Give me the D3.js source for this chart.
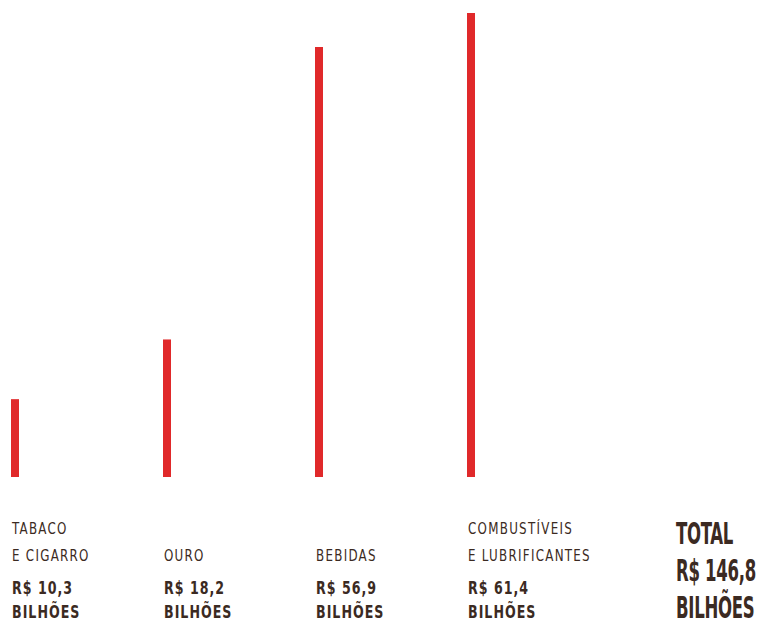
<!DOCTYPE html>
<html>
<head>
<meta charset="utf-8">
<script src="https://cdn.jsdelivr.net/npm/d3@7"></script>
<style>
  body { margin: 0; background: #fff; }
  svg text { font-family: "Liberation Sans Narrow", "DejaVu Sans Condensed", "Roboto", sans-serif; font-stretch: condensed; fill: #3b2a22; }
</style>
</head>
<body>
<div id="chart"></div>
<script>
// data
const categories = ["TABACO\nE CIGARRO", "OURO", "BEBIDAS", "COMBUSTÍVEIS\nE LUBRIFICANTES"];
const values = [10.3, 18.2, 56.9, 61.4];
const valueLabels = ["R$ 10,3", "R$ 18,2", "R$ 56,9", "R$ 61,4"];
const unitLabel = "BILHÕES";
const totalLines = ["TOTAL", "R$ 146,8", "BILHÕES"];

const width = 761, height = 623;

const svg = d3.select("#chart")
    .append("svg")
    .attr("width", width)
    .attr("height", height);

// x positions of the columns
const x = d3.scaleBand()
    .domain(categories)
    .range([11, 619])
    .paddingInner(0)
    .align(0);

const y = d3.scaleLinear()
    .domain([0, d3.max(values)])
    .range([477, 13]);

const barW = 8;

// bars
svg.selectAll("rect.bar")
    .data(values)
    .enter().append("rect")
    .attr("class", "bar")
    .attr("x", (d, i) => x(categories[i]))
    .attr("y", d => y(d))
    .attr("width", barW)
    .attr("height", d => y(0) - y(d))
    .attr("fill", "#e0292a");

// category labels, bottom aligned (squeezed to look like a condensed face)
const labels = svg.selectAll("g.label")
    .data(categories)
    .enter().append("g")
    .attr("class", "label")
    .attr("transform", d => `translate(${x(d) + 1},0)`);

labels.each(function(d) {
    const lines = d.split("\n");
    const g = d3.select(this).append("g").attr("transform", "scale(0.8,1)");
    lines.forEach((line, j) => {
        g.append("text")
            .attr("y", 561 - (lines.length - 1 - j) * 27)
            .attr("font-size", 16.5)
            .attr("letter-spacing", 1.6)
            .text(line);
    });
});

const valG = labels.append("g").attr("transform", "scale(0.78,1)");

valG.append("text")
    .attr("y", 594)
    .attr("font-size", 18)
    .attr("font-weight", "bold")
    .attr("letter-spacing", 1.3)
    .text((d, i) => valueLabels[i]);

valG.append("text")
    .attr("y", 618)
    .attr("font-size", 18)
    .attr("font-weight", "bold")
    .attr("letter-spacing", 1.3)
    .text(unitLabel);

// total block
const total = svg.append("g").attr("transform", "translate(676,0)");
const totalInner = total.append("g");
const totalY = [544, 581, 618];
totalInner.selectAll("text")
    .data(totalLines)
    .enter().append("text")
    .attr("y", (d, i) => totalY[i])
    .attr("font-size", 31)
    .attr("font-weight", "bold")
    .attr("letter-spacing", -0.5)
    .text(d => d);

// squeeze the total so its widest line is 80px wide
let maxW = 0;
totalInner.selectAll("text").each(function() {
    maxW = Math.max(maxW, this.getComputedTextLength());
});
totalInner.attr("transform", `scale(${80 / maxW},1)`);
</script>
</body>
</html>
